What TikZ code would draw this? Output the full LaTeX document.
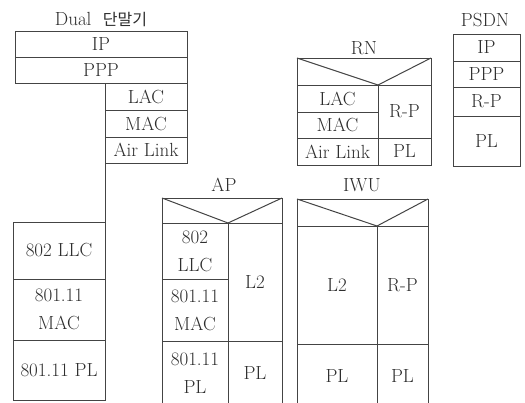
\documentclass[tikz,border=0pt]{standalone}
\usepackage{fontspec}
\newfontfamily\kr{Noto Sans CJK KR}
\definecolor{ink}{HTML}{2E2E2E}
\definecolor{edge}{HTML}{444444}
\begin{document}
\begin{tikzpicture}[x=1pt,y=-1pt,
  cell/.style={draw=edge, line width=1pt, inner sep=0pt, outer sep=0pt, text=ink,
    align=center, font=\fontsize{19}{28}\selectfont},
  ttl/.style={text=ink, inner sep=0pt, font=\fontsize{19}{20}\selectfont},
  conn/.style={draw=edge, line width=1pt}]
\clip (0,0) rectangle (525,402);
\fill[white] (0,0) rectangle (525,402);
% Dual terminal
\node[ttl] (dualt) at (101,20) {Dual\ \ {\kr\fontsize{16}{18}\selectfont 단말기}};
\node[cell, minimum width=172, minimum height=26] (dip) at (101,44) {IP};
\node[cell, minimum width=172, minimum height=26] (dppp) at (101,70) {PPP};
\node[cell, minimum width=82, minimum height=27] (dlac) at (146,96.5) {LAC};
\node[cell, minimum width=82, minimum height=27] (dmac) at (146,123.5) {MAC};
\node[cell, minimum width=82, minimum height=26] (dair) at (146,150) {Air Link};
\node[cell, minimum width=92, minimum height=57] (wllc) at (59,250.5) {802 LLC};
\node[cell, minimum width=92, minimum height=61] (wmac) at (59,309.5) {801.11\\MAC};
\node[cell, minimum width=92, minimum height=60] (wpl) at (59,370) {801.11 PL};
\draw[conn] (dair.south west) -- (dair.south west |- wllc.north);
% RN
\node[ttl] (rnt) at (364,48) {RN};
\node[cell, minimum width=134, minimum height=27] (rnh) at (364,71.5) {};
\coordinate (rnapex) at (378,85);
\draw[conn] (rnh.north west) -- (rnapex) -- (rnh.north east);
\node[cell, minimum width=81, minimum height=27] (rlac) at (337.5,98.5) {LAC};
\node[cell, minimum width=81, minimum height=26] (rmac) at (337.5,125) {MAC};
\node[cell, minimum width=81, minimum height=27] (rair) at (337.5,151.5) {Air Link};
\node[cell, minimum width=53, minimum height=53] (rrp) at (404.5,111.5) {R-P};
\node[cell, minimum width=53, minimum height=27] (rpl) at (404.5,151.5) {PL};
% PSDN
\node[ttl] (pt) at (485,20) {PSDN};
\node[cell, minimum width=67, minimum height=27] (pip) at (486.5,47.5) {IP};
\node[cell, minimum width=67, minimum height=26] (pppp) at (486.5,74) {PPP};
\node[cell, minimum width=67, minimum height=29] (prp) at (486.5,101.5) {R-P};
\node[cell, minimum width=67, minimum height=50] (ppl) at (486.5,141) {PL};
% AP
\node[ttl] (apt) at (224,185) {AP};
\node[cell, minimum width=120, minimum height=25] (aph) at (222,210.5) {};
\coordinate (apapex) at (228,223);
\draw[conn] (aph.north west) -- (apapex) -- (aph.north east);
\node[cell, minimum width=66, minimum height=56] (allc) at (195,251) {802\\LLC};
\node[cell, minimum width=66, minimum height=62] (amac) at (195,310) {801.11\\MAC};
\node[cell, minimum width=66, minimum height=64] (apl1) at (195,373) {801.11\\PL};
\node[cell, minimum width=54, minimum height=118] (al2) at (255,282) {L2};
\node[cell, minimum width=54, minimum height=64] (apl2) at (255,373) {PL};
% IWU
\node[ttl] (iwt) at (362,185) {IWU};
\node[cell, minimum width=131, minimum height=27] (iwh) at (362.5,212.5) {};
\coordinate (iwapex) at (377,226);
\draw[conn] (iwh.north west) -- (iwapex) -- (iwh.north east);
\node[cell, minimum width=80, minimum height=118] (il2) at (337,285) {L2};
\node[cell, minimum width=51, minimum height=118] (irp) at (402.5,285) {R-P};
\node[cell, minimum width=80, minimum height=64] (ipl1) at (337,376) {PL};
\node[cell, minimum width=51, minimum height=64] (ipl2) at (402.5,376) {PL};
\end{tikzpicture}
\end{document}
